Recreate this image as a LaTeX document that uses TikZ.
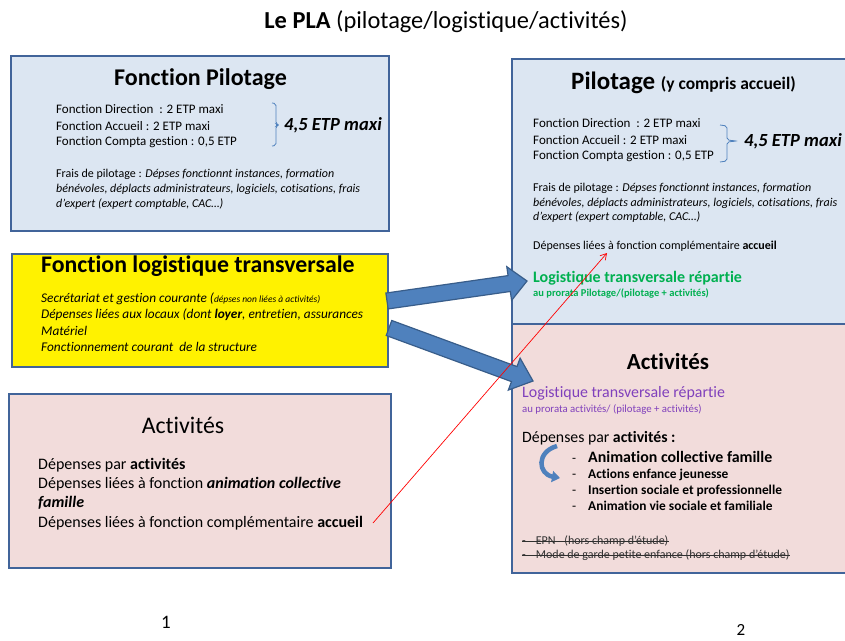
\documentclass[tikz,border=0pt]{standalone}
\usepackage{fontspec}
\setmainfont{Carlito}[Ligatures=NoCommon]
\usetikzlibrary{calc,arrows.meta}
\definecolor{bluefill}{HTML}{DCE6F2}
\definecolor{pinkfill}{HTML}{F2DCDB}
\definecolor{boxborder}{HTML}{41649A}
\definecolor{arrfill}{HTML}{4F81BD}
\definecolor{arrborder}{HTML}{385D8A}
\definecolor{grn}{HTML}{00B050}
\definecolor{purp}{HTML}{8040BC}
\definecolor{striketext}{HTML}{303030}
\newcommand\myfs[1]{\fontsize{#1}{#1}\selectfont}
\tikzset{
  boxshape/.style={draw=boxborder, line width=2pt, inner sep=0pt},
  bluebox/.style={boxshape, fill=bluefill},
  pinkbox/.style={boxshape, fill=pinkfill},
  yellowbox/.style={boxshape, fill=yellow},
  txt/.style={anchor=west, inner sep=0pt, text=black},
  ctxt/.style={anchor=center, inner sep=0pt, text=black},
  blockarr/.style={fill=arrfill, draw=arrborder, line width=1.2pt, line join=miter},
  bracestyle/.style={draw=arrfill, line width=0.8pt, rounded corners=2pt},
  redarrow/.style={draw=red, line width=0.7pt, -{Straight Barb[length=6pt,width=7pt]}},
  strike/.style={draw=striketext, line width=0.6pt}
}
\begin{document}
\begin{tikzpicture}[x=1pt, y=-1pt]
\useasboundingbox[fill=white] (0,0) rectangle (845,640);

% title
\node[ctxt] (title) at (446,22) {\myfs{24.4}\textbf{Le PLA} (pilotage/logistique/activités)};

% ---------- Box 1 : Fonction Pilotage
\node[bluebox, minimum width=378pt, minimum height=175pt] (pil1) at (200,143.5) {};
\node[ctxt] (pil1t) at (200.5,79) {\myfs{24}\textbf{Fonction Pilotage}};
\node[txt] (p1l1) at (56,109) {\myfs{13}Fonction Direction~ : 2 ETP maxi};
\node[txt] (p1l2) at (56,126) {\myfs{13}Fonction Accueil : 2 ETP maxi};
\node[txt] (p1l3) at (56,142) {\myfs{13}Fonction Compta gestion : 0,5 ETP};
\draw[bracestyle] (272,103) -- (276,103.5) -- (276,124) -- (278,125) -- (276,126) -- (276,145.5) -- (272,146);
\node[txt] (p1etp) at (284,125) {\myfs{18.5}\textbf{\textit{4,5 ETP maxi}}};
\node[txt] (p1f1) at (56,174) {\myfs{12}Frais de pilotage : \textit{Dépses fonctionnt instances, formation}};
\node[txt] (p1f2) at (56,189) {\myfs{12}\textit{bénévoles, déplacts administrateurs, logiciels, cotisations, frais}};
\node[txt] (p1f3) at (56,204) {\myfs{12}\textit{d’expert (expert comptable, CAC…)}};

% ---------- Box 2 : yellow
\node[yellowbox, minimum width=376pt, minimum height=113pt] (logi) at (200,310.5) {};
\node[txt] (logit) at (41,266) {\myfs{23.8}\textbf{Fonction logistique transversale}};
\node[txt] (lg1) at (41,299) {\myfs{13.3}\textit{Secrétariat et gestion courante (}{\myfs{9.5}\textit{dépses non liées à activités)}}};
\node[txt] (lg2) at (41,315) {\myfs{13.3}\textit{Dépenses liées aux locaux (dont \textbf{loyer}, entretien, assurances}};
\node[txt] (lg3) at (41,331) {\myfs{13.3}\textit{Matériel}};
\node[txt] (lg4) at (41,347) {\myfs{13.3}\textit{Fonctionnement courant~ de la structure}};

% ---------- Box 3 : Activités left
\node[pinkbox, minimum width=382pt, minimum height=174pt] (act1) at (200,481) {};
\node[ctxt] (act1t) at (183,425) {\myfs{23.8}Activités};
\node[txt] (a1l1) at (38,465) {\myfs{16}Dépenses par \textbf{activités}};
\node[txt] (a1l2) at (38,484) {\myfs{16}Dépenses liées à fonction \textbf{\textit{animation collective}}};
\node[txt] (a1l3) at (38,503) {\myfs{16}\textbf{\textit{famille}}};
\node[txt] (a1l4) at (38,523) {\myfs{16}Dépenses liées à fonction complémentaire \textbf{accueil}};

% ---------- Right boxes (clipped at page edge)
\begin{scope}
\clip (0,0) rectangle (845,640);
\node[bluebox, minimum width=358pt, minimum height=265pt] (pil2) at (691,191.5) {};
\node[pinkbox, minimum width=358pt, minimum height=249pt] (act2) at (691,448.5) {};
\end{scope}

% Right Pilotage text
\node[txt] (pil2t) at (571,83) {\myfs{25}\textbf{Pilotage} {\myfs{17.5}\textbf{(y compris accueil)}}};
\node[txt] (p2l1) at (533,123) {\myfs{13}Fonction Direction~ : 2 ETP maxi};
\node[txt] (p2l2) at (533,140) {\myfs{13}Fonction Accueil : 2 ETP maxi};
\node[txt] (p2l3) at (533,156) {\myfs{13}Fonction Compta gestion : 0,5 ETP};
\draw[bracestyle] (720,125) -- (727,126) -- (727,140) -- (737,141) -- (727,142) -- (727,161) -- (720,162);
\node[txt] (p2etp) at (744,141) {\myfs{18.5}\textbf{\textit{4,5 ETP maxi}}};
\node[txt] (p2f1) at (533,188) {\myfs{12}Frais de pilotage : \textit{Dépses fonctionnt instances, formation}};
\node[txt] (p2f2) at (533,203) {\myfs{12}\textit{bénévoles, déplacts administrateurs, logiciels, cotisations, frais}};
\node[txt] (p2f3) at (533,217) {\myfs{12}\textit{d’expert (expert comptable, CAC…)}};
\node[txt] (p2acc) at (533,246) {\myfs{12}Dépenses liées à fonction complémentaire \textbf{accueil}};
\node[txt, text=grn] (p2g1) at (533,278) {\myfs{16}\textbf{Logistique transversale répartie}};
\node[txt, text=grn] (p2g2) at (533,293) {\myfs{10.5}\textbf{au prorata Pilotage/(pilotage + activités)}};

% Right Activités text
\node[ctxt] (act2t) at (668,362) {\myfs{23}\textbf{Activités}};
\node[txt, text=purp] (a2p1) at (522,393) {\myfs{15.9}Logistique transversale répartie};
\node[txt, text=purp] (a2p2) at (522,409) {\myfs{10.8}au prorata activités/ (pilotage + activités)};
\node[txt] (a2d) at (522,438) {\myfs{15.8}Dépenses par \textbf{activités :}};
\node[txt] (it1) at (572,457) {\myfs{15.9}\makebox[16pt][l]{\myfs{13}-}\textbf{Animation collective famille}};
\node[txt] (it2) at (572,475) {\myfs{13.4}\makebox[16pt][l]{-}\textbf{Actions enfance jeunesse}};
\node[txt] (it3) at (572,491) {\myfs{13.4}\makebox[16pt][l]{-}\textbf{Insertion sociale et professionnelle}};
\node[txt] (it4) at (572,506) {\myfs{13.4}\makebox[16pt][l]{-}\textbf{Animation vie sociale et familiale}};
\node[txt, text=striketext] (st1) at (522,541) {\myfs{12}-\hspace{10pt}EPN\hspace{6pt} (hors champ d’étude)};
\node[txt, text=striketext] (st2) at (522,555) {\myfs{12}-\hspace{10pt}Mode de garde petite enfance (hors champ d’étude)};
\draw[strike] ($(st1.base west)+(0,-3.2)$) -- ($(st1.base east)+(0,-3.2)$);
\draw[strike] ($(st2.base west)+(0,-3.2)$) -- ($(st2.base east)+(0,-3.2)$);

% curved arrow
\coordinate (cv1) at (557,446);
\coordinate (cv2) at (560,478);
\draw[draw=arrfill, line width=4.5pt, -{Triangle[length=8pt,width=11pt]}] (cv1) .. controls (536,452) and (538,474) .. (cv2);

% ---------- Block arrows
\coordinate (a1s) at (387,301);
\coordinate (a1e) at (527,281);
\coordinate (c1) at ($(a1e)!18pt!(a1s)$);
\draw[blockarr] ($(a1s)!8pt!90:(a1e)$) -- ($(c1)!8pt!90:(a1e)$) -- ($(c1)!17pt!90:(a1e)$) -- (a1e) -- ($(c1)!17pt!-90:(a1e)$) -- ($(c1)!8pt!-90:(a1e)$) -- ($(a1s)!8pt!-90:(a1e)$) -- cycle;

\coordinate (a2s) at (389,328);
\coordinate (a2e) at (533,381);
\coordinate (c2) at ($(a2e)!20pt!(a2s)$);
\draw[blockarr] ($(a2s)!8pt!90:(a2e)$) -- ($(c2)!8pt!90:(a2e)$) -- ($(c2)!17pt!90:(a2e)$) -- (a2e) -- ($(c2)!17pt!-90:(a2e)$) -- ($(c2)!8pt!-90:(a2e)$) -- ($(a2s)!8pt!-90:(a2e)$) -- cycle;

% ---------- red arrow
\coordinate (rs) at (373,523);
\coordinate (re) at (607,253);
\draw[redarrow] (rs) -- (re);

% page numbers
\node[ctxt] (n1) at (166,622) {\myfs{19}1};
\node[ctxt] (n2) at (741,630) {\myfs{17}2};
\end{tikzpicture}
\end{document}
